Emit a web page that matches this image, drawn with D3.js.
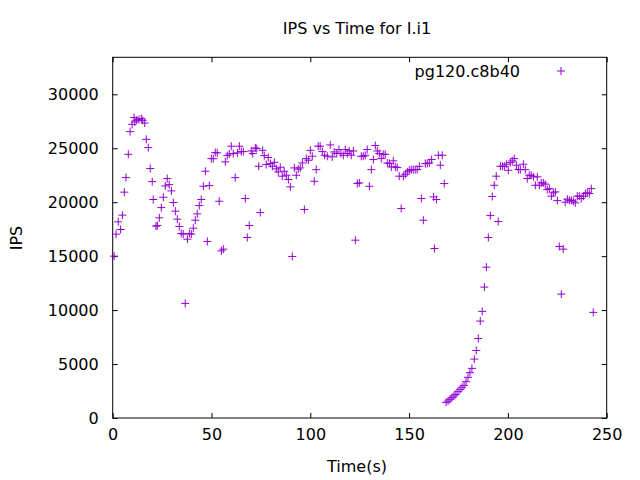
<!DOCTYPE html>
<html>
<head>
<meta charset="utf-8">
<script src="https://cdn.jsdelivr.net/npm/d3@7"></script>
<style>
  body { margin: 0; background: #fff; }
  text { font-family: "DejaVu Sans", sans-serif; font-size: 16px; fill: #000; }
</style>
</head>
<body>
<svg id="chart" width="640" height="480"></svg>
<script>
// values
const seriesName = "pg120.c8b40";
const xTicks = [0, 50, 100, 150, 200, 250];
const yTicks = [0, 5000, 10000, 15000, 20000, 25000, 30000];

const times = [
	0.7, 1.7, 2.8, 4.0, 4.9, 5.9, 6.7, 7.9, 8.8, 9.8, 10.8, 11.2, 12.1, 13.3, 14.5, 15.2, 16.2, 17.0, 18.0, 19.0,
	20.0, 20.5, 21.9, 22.6, 23.6, 24.6, 25.6, 26.6, 27.6, 28.6, 29.7, 30.7, 31.7, 32.7, 33.7, 34.7, 35.7, 36.7, 37.8, 38.8,
	39.8, 40.8, 41.8, 42.8, 43.8, 44.8, 45.9, 46.9, 47.9, 48.9, 49.9, 50.9, 51.9, 52.9, 53.9, 55.0, 56.0, 57.0, 58.0, 59.0,
	60.0, 61.0, 62.0, 63.1, 64.1, 65.1, 66.1, 67.1, 68.1, 69.1, 70.1, 70.9, 72.2, 72.9, 73.9, 74.7, 75.9, 76.7, 77.7, 78.7,
	79.8, 80.8, 81.8, 82.8, 83.8, 84.8, 85.8, 86.8, 87.9, 88.9, 89.9, 90.9, 91.9, 92.9, 93.9, 94.9, 96.0, 97.0, 98.0, 99.0,
	100.0, 101.0, 102.0, 103.0, 104.0, 105.0, 106.1, 107.3, 108.6, 110.1, 111.1, 112.1, 113.4, 114.5, 115.5, 116.7, 117.7, 118.7, 119.7, 120.7,
	121.8, 122.8, 123.8, 124.8, 125.8, 126.8, 127.8, 128.8, 129.9, 130.9, 131.9, 132.9, 133.9, 134.9, 135.9, 136.9, 137.9, 139.0, 140.0, 141.0,
	142.0, 143.0, 144.0, 145.0, 146.0, 147.1, 148.1, 149.1, 150.1, 151.1, 152.1, 153.1, 154.1, 155.2, 156.2, 157.2, 158.2, 159.2, 160.2, 161.4,
	162.4, 162.8, 163.8, 164.8, 165.8, 166.8, 167.8,
	168.7, 169.7, 170.7, 171.7, 172.7, 173.7, 174.7, 175.8, 176.8, 177.8, 178.8, 179.8, 180.8, 181.8, 183.0, 184.0, 185.0, 186.0, 187.0, 188.1,
	189.1, 190.1, 191.1, 192.1, 193.1, 194.1, 195.1, 196.2, 197.2, 198.2, 199.2, 200.2, 201.2, 202.2, 203.2, 204.3, 205.3, 206.3, 207.8, 208.8,
	209.8, 210.8, 211.8, 212.9, 213.9, 214.9, 215.9, 216.9, 217.9, 218.9, 219.9, 221.0, 222.0, 223.0, 224.0, 225.0, 226.0, 227.0, 228.0, 229.0,
	230.1, 231.1, 232.1, 233.1, 234.1, 235.1, 236.1, 237.1, 238.2, 239.2, 240.2, 241.2, 242.2, 243.2
];

const ips = [
	15000, 17040, 18180, 17470, 18800, 20930, 22280, 24440, 26540, 27220, 27840, 27440, 27590, 27680, 27750, 27590, 27340, 25830, 25060, 23120,
	21910, 20250, 17780, 17840, 18550, 19500, 20460, 21510, 22190, 21630, 21050, 19970, 19170, 18430, 17750, 17100, 17040, 10620, 16570, 17100,
	17040, 17590, 18330, 18920, 19690, 20250, 21480, 22870, 16360, 21540, 24040, 24040, 24600, 24570, 20090, 15490, 15650, 23740, 24320, 24470,
	25190, 24510, 22280, 24570, 25190, 24690, 24690, 20340, 16730, 17840, 24750, 24510, 25030, 24970, 23330, 19040, 24810, 24320, 23490, 24140,
	23580, 23330, 23700, 23090, 22810, 23240, 22410, 22870, 22500, 22100, 21420, 14970, 23180, 22500, 23060, 23180, 23640, 19320, 24040, 23890,
	24810, 24260, 21940, 23020, 25190, 25190, 24690, 24350, 24260, 25310, 24200, 24660, 24510, 24880, 24510, 24350, 24880, 24510, 24750, 24350,
	24750, 16480, 21730, 21790, 24260, 24260, 24350, 24880, 21480, 23020, 23950, 25250, 24750, 24510, 24040, 24440, 24440, 23640, 23580, 23270,
	23830, 23270, 23210, 22410, 19420, 22410, 22590, 22810, 22960, 23020, 23020, 23020, 23020, 23330, 20340, 18330, 23580, 23580, 23640, 23950,
	20490, 15710, 20250, 24350, 23430, 24350, 21730,
	1450, 1570, 1730, 1880, 2040, 2190, 2440, 2650, 2840, 3020, 3360, 3770, 4200, 4600, 5460, 6260, 7370, 8980, 9880, 12130,
	13980, 16730, 18760, 20530, 21570, 22410, 18210, 23330, 23330, 23330, 23520, 22960, 23670, 23830, 24040, 23430, 23020, 23020, 23520, 23020,
	22190, 22500, 22500, 22350, 21570, 22350, 21570, 21790, 21790, 21670, 21170, 21260, 20560, 20870, 20960, 20150, 15900, 11480, 15650, 20000,
	20280, 20180, 20180, 20090, 19940, 20560, 20560, 20340, 20560, 20800, 20870, 20800, 21260, 9790
];

const svg = d3.select("#chart");
const frame = { left: 112.7, right: 606.7, top: 57.3, bottom: 418 };
const purple = "#9400d3";

const x = d3.scaleLinear().domain([0, 250]).range([frame.left, frame.right]);
const y = d3.scaleLinear().domain([0, 33430]).range([frame.bottom, frame.top]);

const plus = "M-4,0H4M0,-4V4";

// ticks point inward like gnuplot, labels only on bottom and left
const axisB = svg.append("g")
	.attr("transform", `translate(0,${frame.bottom})`)
	.call(d3.axisBottom(x).tickValues(xTicks).tickSize(-5).tickPadding(11).tickFormat(d3.format("d")));
const axisT = svg.append("g")
	.attr("transform", `translate(0,${frame.top})`)
	.call(d3.axisTop(x).tickValues(xTicks).tickSize(-5).tickFormat(""));
const axisL = svg.append("g")
	.attr("transform", `translate(${frame.left},0)`)
	.call(d3.axisLeft(y).tickValues(yTicks).tickSize(-5).tickPadding(14).tickFormat(d3.format("d")));
const axisR = svg.append("g")
	.attr("transform", `translate(${frame.right},0)`)
	.call(d3.axisRight(y).tickValues(yTicks).tickSize(-5).tickFormat(""));

for (const g of [axisB, axisT, axisL, axisR]) {
	g.select(".domain").remove();
	g.selectAll("line").attr("stroke", "#000").attr("stroke-width", 1);
	g.selectAll("text").attr("font-size", 16).attr("font-family", "DejaVu Sans, sans-serif").attr("fill", "#000");
}

svg.append("rect")
	.attr("x", frame.left)
	.attr("y", frame.top)
	.attr("width", frame.right - frame.left)
	.attr("height", frame.bottom - frame.top)
	.attr("fill", "none")
	.attr("stroke", "#000")
	.attr("stroke-width", 1);

const points = times.map((t, i) => ({ t: t, v: ips[i] }));

svg.append("g")
	.selectAll("path")
	.data(points)
	.join("path")
	.attr("d", plus)
	.attr("transform", (d) => `translate(${x(d.t)},${y(d.v)})`)
	.attr("stroke", purple)
	.attr("stroke-width", 1)
	.attr("fill", "none");

// key
svg.append("text")
	.attr("x", 520)
	.attr("y", 71)
	.attr("dy", "0.35em")
	.attr("text-anchor", "end")
	.text(seriesName);
svg.append("path")
	.attr("d", plus)
	.attr("transform", "translate(561,71)")
	.attr("stroke", purple)
	.attr("fill", "none");

svg.append("text")
	.attr("x", 357)
	.attr("y", 28)
	.attr("dy", "0.35em")
	.attr("text-anchor", "middle")
	.text("IPS vs Time for I.i1");

svg.append("text")
	.attr("x", 357)
	.attr("y", 466)
	.attr("dy", "0.35em")
	.attr("text-anchor", "middle")
	.text("Time(s)");

svg.append("text")
	.attr("transform", "translate(16,238) rotate(-90)")
	.attr("dy", "0.35em")
	.attr("text-anchor", "middle")
	.text("IPS");
</script>
</body>
</html>
